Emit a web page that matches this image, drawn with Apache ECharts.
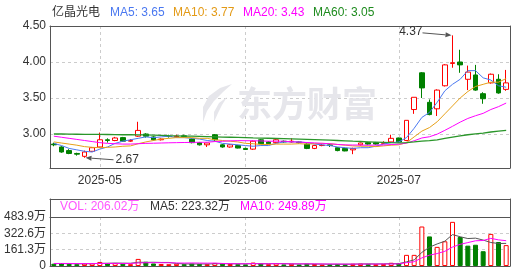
<!DOCTYPE html>
<html><head><meta charset="utf-8">
<script src="https://cdn.jsdelivr.net/npm/echarts@6/dist/echarts.min.js"></script>
<style>html,body{margin:0;padding:0;background:#fff}#c{width:514px;height:272px}</style>
</head><body><div id="c"></div>
<script>
const stockName = '亿晶光电';
const dates = ['2025-04-23','2025-04-24','2025-04-25','2025-04-28','2025-04-29','2025-04-30',
'2025-05-06','2025-05-07','2025-05-08','2025-05-09','2025-05-12','2025-05-13','2025-05-14','2025-05-15','2025-05-16','2025-05-19','2025-05-20','2025-05-21','2025-05-22','2025-05-23','2025-05-26','2025-05-27','2025-05-28','2025-05-29','2025-05-30',
'2025-06-03','2025-06-04','2025-06-05','2025-06-06','2025-06-09','2025-06-10','2025-06-11','2025-06-12','2025-06-13','2025-06-16','2025-06-17','2025-06-18','2025-06-19','2025-06-20','2025-06-23','2025-06-24','2025-06-25','2025-06-26','2025-06-27','2025-06-30',
'2025-07-01','2025-07-02','2025-07-03','2025-07-04','2025-07-07','2025-07-08','2025-07-09','2025-07-10','2025-07-11','2025-07-14','2025-07-15','2025-07-16','2025-07-17','2025-07-18','2025-07-21'];
const open = [2.86,2.82,2.77,2.73,2.69,2.76,2.82,2.92,2.91,2.95, 2.90,2.97,3.00,2.96,2.92,2.97,2.96,2.975,2.93,2.88,
 2.85,2.99,2.85,2.82,2.84,2.80,2.79,2.92,2.89,2.88, 2.90,2.89,2.89,2.86,2.80,2.84,2.85,2.81,2.80,2.78,
 2.85,2.88,2.88,2.87,2.89,2.945,2.91,3.34,3.85,3.44, 3.35,3.67,3.98,4.00,3.76,3.82,3.56,3.71,3.76,3.62];
const close = [2.85,2.75,2.73,2.72,2.75,2.81,2.92,2.91,2.945,2.90, 2.91,3.05,2.97,2.92,2.93,2.965,2.97,2.965,2.88,2.85,
 2.875,2.92,2.82,2.85,2.805,2.785,2.90,2.865,2.865,2.92, 2.89,2.90,2.88,2.80,2.84,2.845,2.84,2.77,2.765,2.80,
 2.875,2.86,2.86,2.88,2.94,2.89,3.19,3.51,3.64,3.27, 3.61,3.96,3.99,3.96,3.86,3.61,3.49,3.83,3.57,3.71];
const low = [2.83,2.74,2.72,2.70,2.67,2.75,2.81,2.88,2.90,2.89, 2.89,2.96,2.95,2.91,2.91,2.95,2.95,2.95,2.87,2.84,
 2.82,2.90,2.81,2.81,2.80,2.78,2.78,2.86,2.86,2.87, 2.88,2.88,2.87,2.79,2.79,2.83,2.82,2.76,2.76,2.72,
 2.84,2.85,2.85,2.86,2.88,2.88,2.90,3.28,3.50,3.26, 3.25,3.66,3.92,3.85,3.61,3.60,3.42,3.70,3.56,3.60];
const high = [2.88,2.83,2.79,2.74,2.77,2.82,3.02,2.94,2.96,2.96, 2.93,3.17,3.01,2.97,2.94,2.99,2.99,2.99,2.94,2.89,
 2.88,3.00,2.86,2.86,2.85,2.81,2.91,2.93,2.90,2.93, 2.91,2.94,2.90,2.87,2.85,2.86,2.86,2.82,2.81,2.81,
 2.88,2.89,2.89,2.90,2.99,2.95,3.19,3.51,3.86,3.48, 3.62,3.97,4.37,4.17,3.95,3.96,3.58,3.84,3.83,3.89];
const ma5 = [2.87,2.84,2.80,2.78,2.76,2.75,2.79,2.82,2.87,2.90, 2.92,2.94,2.96,2.95,2.96,2.97,2.95,2.95,2.94,2.93,
 2.91,2.90,2.87,2.86,2.85,2.84,2.83,2.84,2.84,2.87, 2.89,2.89,2.89,2.88,2.86,2.85,2.84,2.82,2.81,2.80,
 2.81,2.81,2.83,2.86,2.88,2.89,2.95,3.08,3.23,3.30, 3.44,3.60,3.69,3.76,3.88,3.88,3.78,3.75,3.67,3.65];
const ma10 = [2.89,2.875,2.86,2.845,2.825,2.815,2.81,2.815,2.82,2.83, 2.835,2.865,2.89,2.91,2.93,2.94,2.95,2.95,2.95,2.94,
 2.94,2.92,2.91,2.90,2.89,2.87,2.865,2.855,2.855,2.86, 2.86,2.86,2.865,2.86,2.865,2.87,2.865,2.855,2.845,2.835,
 2.83,2.83,2.825,2.835,2.845,2.85,2.88,2.96,3.04,3.09, 3.17,3.28,3.39,3.50,3.59,3.66,3.69,3.72,3.72,3.77];
const ma20 = [2.97,2.955,2.94,2.925,2.91,2.895,2.88,2.87,2.865,2.86, 2.86,2.865,2.87,2.872,2.875,2.878,2.88,2.882,2.884,2.885,
 2.886,2.895,2.899,2.905,2.908,2.907,2.906,2.904,2.90,2.90, 2.90,2.892,2.888,2.882,2.877,2.871,2.865,2.855,2.849,2.847,
 2.847,2.844,2.846,2.847,2.854,2.859,2.874,2.906,2.945,2.962, 2.998,3.051,3.107,3.165,3.216,3.254,3.287,3.34,3.38,3.43];
const ma60 = [3.00,3.00,2.998,2.997,2.995,2.995,2.994,2.993,2.992,2.99, 2.99,2.989,2.987,2.985,2.982,2.978,2.975,2.972,2.97,2.967,
 2.964,2.961,2.958,2.955,2.952,2.949,2.946,2.944,2.941,2.938, 2.935,2.932,2.929,2.926,2.922,2.918,2.914,2.91,2.905,2.90,
 2.896,2.892,2.888,2.884,2.88,2.877,2.880,2.890,2.902,2.908, 2.920,2.938,2.956,2.974,2.990,3.002,3.012,3.028,3.039,3.05];
const vol = [22,28,20,18,24,26,40,25,28,22, 18,70,42,25,20,18,22,18,24,20,
 18,30,22,20,18,16,34,24,18,26, 16,22,15,22,20,14,16,20,18,22,
 24,20,18,20,32,30,110,110,390,292, 189,244,436,286,201,210,146,317,237,206.02];
const volMa5 = [24,24,23,22,22,23,26,27,29,28, 27,37,36,37,35,35,25,21,20,20,
 20,22,23,22,22,21,24,23,22,24, 24,21,20,21,19,19,17,17,18,18,
 20,21,20,21,23,23,41,60,134,186, 218,245,310,289,271,275,256,232,222,223.32];
const volMa10 = [25,25,25,24,24,24,25,25,26,25, 25,30,32,33,32,32,30,29,30,29,
 28,29,25,23,22,22,24,22,22,23, 22,21,21,21,21,20,20,20,18,19,
 19,19,19,20,20,21,33,42,80,107, 123,145,187,214,231,249,252,273,258,249.89];
const priceTicks = [3.00, 3.50, 4.00, 4.50];
const volTicks = [0, 161.3, 322.6, 483.9];
const priceMin = 2.528, priceMax = 4.50;

const FONT = "'Liberation Sans', Arial, 'Noto Sans CJK SC', sans-serif";
const UP = '#ff0000', DOWN = '#008000', BORDER = '#555555';
const chart = echarts.init(document.getElementById('c'), null, {renderer: 'canvas'});

const monthStart = (i) => i > 0 && dates[i].slice(0, 7) !== dates[i - 1].slice(0, 7);
const kData = dates.map((d, i) => [open[i], close[i], low[i], high[i]]);
const volData = vol.map((v, i) => {
  const prev = i > 0 ? close[i - 1] : open[i];
  const up = close[i] >= prev;
  return {value: v, itemStyle: up ? {color: '#ffffff', borderColor: UP, borderWidth: 1} : {color: DOWN, borderColor: DOWN, borderWidth: 1}};
});

const frameLine = {show: true, onZero: false, lineStyle: {color: BORDER, width: 1}};
const splitX = {show: true, interval: (i) => monthStart(i), alignWithLabel: true, lineStyle: {color: '#cccccc', type: [3, 3], width: 1}};

chart.setOption({
  animation: false,
  textStyle: {fontFamily: FONT},
  grid: [
    {left: 50, right: 4, top: 26, height: 142},
    {left: 50, right: 4, top: 217, height: 53},
    {left: 50, right: 4, top: 199, height: 18}
  ],
  xAxis: [
    {type: 'category', data: dates, gridIndex: 0, position: 'bottom', boundaryGap: true, axisLine: frameLine, axisTick: {show: false},
      axisLabel: {interval: (i) => monthStart(i), formatter: (v) => v.slice(0, 7), color: '#333', fontSize: 12, margin: 7, fontFamily: FONT},
      splitLine: splitX},
    {type: 'category', data: dates, gridIndex: 0, position: 'top', boundaryGap: true, axisLine: frameLine, axisTick: {show: false}, axisLabel: {show: false}, splitLine: {show: false}},
    {type: 'category', data: dates, gridIndex: 1, position: 'bottom', boundaryGap: true, axisLine: frameLine, axisTick: {show: false}, axisLabel: {show: false}, splitLine: splitX},
    {type: 'category', data: dates, gridIndex: 1, position: 'top', boundaryGap: true, axisLine: frameLine, axisTick: {show: false}, axisLabel: {show: false}, splitLine: {show: false}},
    {type: 'category', data: dates, gridIndex: 2, position: 'top', boundaryGap: true, axisLine: frameLine, axisTick: {show: false}, axisLabel: {show: false}, splitLine: {show: false}}
  ],
  yAxis: [
    {type: 'value', gridIndex: 0, position: 'left', min: priceMin, max: priceMax,
      axisLine: frameLine, axisTick: {show: false, customValues: priceTicks},
      axisLabel: {customValues: priceTicks, formatter: (v) => v.toFixed(2), color: '#333', fontSize: 12, margin: 4, fontFamily: FONT},
      splitLine: {show: true, lineStyle: {color: '#cccccc', type: [3, 3]}}},
    {type: 'value', gridIndex: 0, position: 'right', min: priceMin, max: priceMax,
      axisLine: frameLine, axisTick: {show: false}, axisLabel: {show: false}, splitLine: {show: false}},
    {type: 'value', gridIndex: 1, position: 'left', min: 0, max: volTicks[volTicks.length - 1],
      axisLine: frameLine, axisTick: {show: false, customValues: volTicks},
      axisLabel: {customValues: volTicks, formatter: (v) => v === 0 ? '0' : v.toFixed(1) + '万', color: '#333', fontSize: 12, margin: 4, fontFamily: FONT},
      splitLine: {show: true, lineStyle: {color: '#cccccc', type: [3, 3]}}},
    {type: 'value', gridIndex: 1, position: 'right', min: 0, max: volTicks[volTicks.length - 1],
      axisLine: frameLine, axisTick: {show: false}, axisLabel: {show: false}, splitLine: {show: false}},
    {type: 'value', gridIndex: 2, position: 'left', min: 0, max: 1, axisLine: frameLine, axisTick: {show: false}, axisLabel: {show: false}, splitLine: {show: false}},
    {type: 'value', gridIndex: 2, position: 'right', min: 0, max: 1, axisLine: frameLine, axisTick: {show: false}, axisLabel: {show: false}, splitLine: {show: false}}
  ],
  series: [
    {type: 'candlestick', name: 'K', xAxisIndex: 0, yAxisIndex: 0, data: kData, barWidth: 5,
      itemStyle: {color: '#ffffff', color0: DOWN, borderColor: UP, borderColor0: DOWN, borderWidth: 1}},
    {type: 'line', name: 'MA5', xAxisIndex: 0, yAxisIndex: 0, data: ma5, showSymbol: false, lineStyle: {color: '#4a78f0', width: 1}},
    {type: 'line', name: 'MA10', xAxisIndex: 0, yAxisIndex: 0, data: ma10, showSymbol: false, lineStyle: {color: '#e6a019', width: 1}},
    {type: 'line', name: 'MA20', xAxisIndex: 0, yAxisIndex: 0, data: ma20, showSymbol: false, lineStyle: {color: '#ff00ff', width: 1}},
    {type: 'line', name: 'MA60', xAxisIndex: 0, yAxisIndex: 0, data: ma60, showSymbol: false, lineStyle: {color: '#2a962a', width: 1.3}},
    {type: 'bar', name: 'VOL', xAxisIndex: 2, yAxisIndex: 2, data: volData, barWidth: 5},
    {type: 'line', name: 'VMA5', xAxisIndex: 2, yAxisIndex: 2, data: volMa5, showSymbol: false, lineStyle: {color: '#555555', width: 1}},
    {type: 'line', name: 'VMA10', xAxisIndex: 2, yAxisIndex: 2, data: volMa10, showSymbol: false, lineStyle: {color: '#ff00ff', width: 1}}
  ]
});

function arrow(x1, y1, x2, y2, color) {
  const dx = x2 - x1, dy = y2 - y1, len = Math.sqrt(dx * dx + dy * dy);
  const ux = dx / len, uy = dy / len, hl = 6, hw = 2.5;
  const bx = x2 - ux * hl, by = y2 - uy * hl;
  return [
    {type: 'line', shape: {x1: x1, y1: y1, x2: bx, y2: by}, style: {stroke: color, lineWidth: 1}, z: 100},
    {type: 'polygon', shape: {points: [[x2, y2], [bx - uy * hw, by + ux * hw], [bx + uy * hw, by - ux * hw]]}, style: {fill: color}, z: 100}
  ];
}

const last = (a) => a[a.length - 1];
let hiIdx = 0, loIdx = 0;
high.forEach((v, i) => { if (v > high[hiIdx]) hiIdx = i; });
low.forEach((v, i) => { if (v < low[loIdx]) loIdx = i; });
const hp = chart.convertToPixel({xAxisIndex: 0, yAxisIndex: 0}, [hiIdx, high[hiIdx]]);
const lp = chart.convertToPixel({xAxisIndex: 0, yAxisIndex: 0}, [loIdx, low[loIdx]]);

const txt = (x, y, s, color, size, align) => ({type: 'text', x: x, y: y, z: 100,
  style: {text: s, fill: color, font: (size || 12) + 'px ' + FONT, textAlign: align || 'left', textVerticalAlign: 'middle'}});

const g = [
  // watermark
  {type: 'text', x: 237, y: 104, z: 0, style: {text: '东方财富', fill: '#e6e6eb', font: 'bold 35px "Noto Sans CJK SC", sans-serif', textAlign: 'left', textVerticalAlign: 'middle'}},
  {type: 'polygon', z: 0, shape: {points: [[232,84],[220,88],[209,96],[203,107],[203,122],[207,111],[214,101],[223,92]]}, style: {fill: '#e6e6eb'}},
  {type: 'polygon', z: 0, shape: {points: [[227,97],[219,103],[214,112],[214,122],[218,113],[222,105]]}, style: {fill: '#e6e6eb'}},
  // price legend
  txt(52, 13, stockName, '#333', 12),
  txt(110, 13, 'MA5: ' + last(ma5).toFixed(2), '#4a78f0', 12),
  txt(173, 13, 'MA10: ' + last(ma10).toFixed(2), '#e39a16', 12),
  txt(243, 13, 'MA20: ' + last(ma20).toFixed(2), '#ff00ff', 12),
  txt(313, 13, 'MA60: ' + last(ma60).toFixed(2), '#1e8b1e', 12),
  // volume legend
  txt(60, 207, 'VOL: ' + last(vol).toFixed(2) + '万', '#ff55ff', 12),
  txt(150, 207, 'MA5: ' + last(volMa5).toFixed(2) + '万', '#333', 12),
  txt(240, 207, 'MA10: ' + last(volMa10).toFixed(2) + '万', '#ff00ff', 12),
  // annotations
  txt(hp[0] - 30, hp[1] - 4, high[hiIdx].toFixed(2), '#333', 12, 'right'),
  txt(lp[0] + 31, lp[1] + 2, low[loIdx].toFixed(2), '#333', 12, 'left')
].concat(arrow(hp[0] - 30, hp[1] - 2.5, hp[0] - 1, hp[1], '#555'))
 .concat(arrow(lp[0] + 29, lp[1] + 2, lp[0] + 1, lp[1], '#555'));

chart.setOption({graphic: g});
</script>
</body></html>
